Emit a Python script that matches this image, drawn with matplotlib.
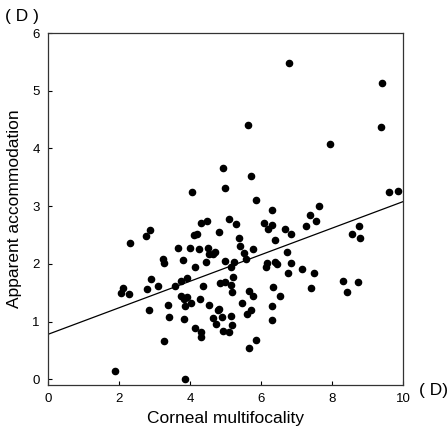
import numpy as np
import matplotlib.pyplot as plt

plt.rcParams['font.family'] = ['Liberation Sans', 'DejaVu Sans']

# corneal multifocality (D) vs apparent accommodation (D)
multifocality = [4.04, 4.93, 4.99, 6.79, 9.40, 5.63, 9.37, 7.94, 5.72, 5.86, 6.29, 7.63, 9.59, 9.86,
                 1.89, 3.86, 2.30, 2.75, 2.87, 2.10, 2.06, 2.28, 2.90, 2.77, 3.09, 2.85, 3.24, 3.26,
                 3.26, 3.37, 3.39, 3.58, 3.66, 3.73, 3.79, 3.90, 3.75, 3.83, 3.90, 3.86, 4.01, 3.83,
                 3.98, 4.14, 4.11, 4.18, 4.31, 4.48, 4.26, 4.50, 4.54, 4.69, 4.65, 4.45, 4.35, 4.28,
                 4.52, 4.13, 4.30, 4.31, 4.63, 4.73, 4.77, 4.80, 4.90, 4.92, 5.09, 5.16, 5.18, 4.84,
                 4.99, 4.82, 5.10, 5.29, 5.37, 5.39, 4.99, 5.22, 5.14, 5.20, 5.16, 5.18,
                 5.52, 5.57, 5.76, 5.46, 5.65, 5.76, 5.72, 5.61, 5.84, 5.65, 6.08, 6.19, 6.31, 6.40,
                 6.66, 6.83, 7.27, 7.38, 7.53, 6.74, 6.16, 6.14, 6.38, 6.44, 6.83, 6.76, 7.15, 7.49,
                 6.34, 6.53, 7.40, 6.29, 6.29, 8.30, 8.41, 8.73, 8.56, 8.75, 8.79]
accommodation = [3.25, 3.67, 3.32, 5.49, 5.14, 4.41, 4.37, 4.08, 3.52, 3.10, 2.93, 3.01, 3.25, 3.27,
                 0.15, 0.01, 2.37, 2.49, 2.59, 1.59, 1.49, 1.47, 1.74, 1.56, 1.61, 1.20, 2.09, 2.01,
                 0.66, 1.28, 1.08, 1.62, 2.27, 1.70, 2.06, 1.76, 1.44, 1.39, 1.42, 1.27, 1.32, 1.05,
                 2.27, 1.95, 2.50, 2.52, 2.70, 2.74, 2.25, 2.27, 2.17, 2.21, 2.17, 2.03, 1.61, 1.39,
                 1.28, 0.88, 0.81, 0.74, 1.07, 0.95, 1.20, 1.22, 1.08, 0.83, 0.81, 1.09, 0.94, 1.66,
                 1.69, 2.55, 2.78, 2.69, 2.44, 2.31, 2.05, 2.04, 1.94, 1.78, 1.63, 1.52,
                 2.18, 2.09, 2.25, 1.33, 1.53, 1.45, 1.20, 1.13, 0.68, 0.54, 2.71, 2.60, 2.67, 2.42,
                 2.60, 2.51, 2.65, 2.84, 2.74, 2.21, 2.02, 1.94, 2.03, 1.99, 2.02, 1.85, 1.91, 1.85,
                 1.60, 1.44, 1.59, 1.27, 1.03, 1.70, 1.51, 1.68, 2.51, 2.66, 2.44]

# regression line
intercept = 0.78
slope = 0.23

fig = plt.figure(figsize=(4.47, 4.36), dpi=100)
ax = fig.add_axes([0.108, 0.117, 0.794, 0.807])

ax.scatter(multifocality, accommodation, s=20, color='black', zorder=3)
xs = np.array([0, 10])
ax.plot(xs, intercept + slope * xs, color='black', lw=0.9)

ax.set_xlim(0, 10)
ax.set_ylim(-0.1, 6)
ax.set_xticks([0, 2, 4, 6, 8, 10])
ax.set_yticks([0, 1, 2, 3, 4, 5, 6])
ax.tick_params(direction='in', length=3, width=0.8, labelsize=9.5, pad=6)
for sp in ax.spines.values():
    sp.set_linewidth(0.9)
    sp.set_color('#333333')

ax.set_xlabel('Corneal multifocality', fontsize=12.5, va='center')
ax.set_ylabel('Apparent accommodation', fontsize=12.5, va='center')
ax.xaxis.set_label_coords(0.5, -0.094)
ax.yaxis.set_label_coords(-0.094, 0.5)

# units
fig.text(0.012, 0.963, '( D )', fontsize=12.5, va='center', ha='left')
fig.text(0.937, 0.105, '( D)', fontsize=12.5, va='center', ha='left')

fig.savefig('out.png', dpi=100)
